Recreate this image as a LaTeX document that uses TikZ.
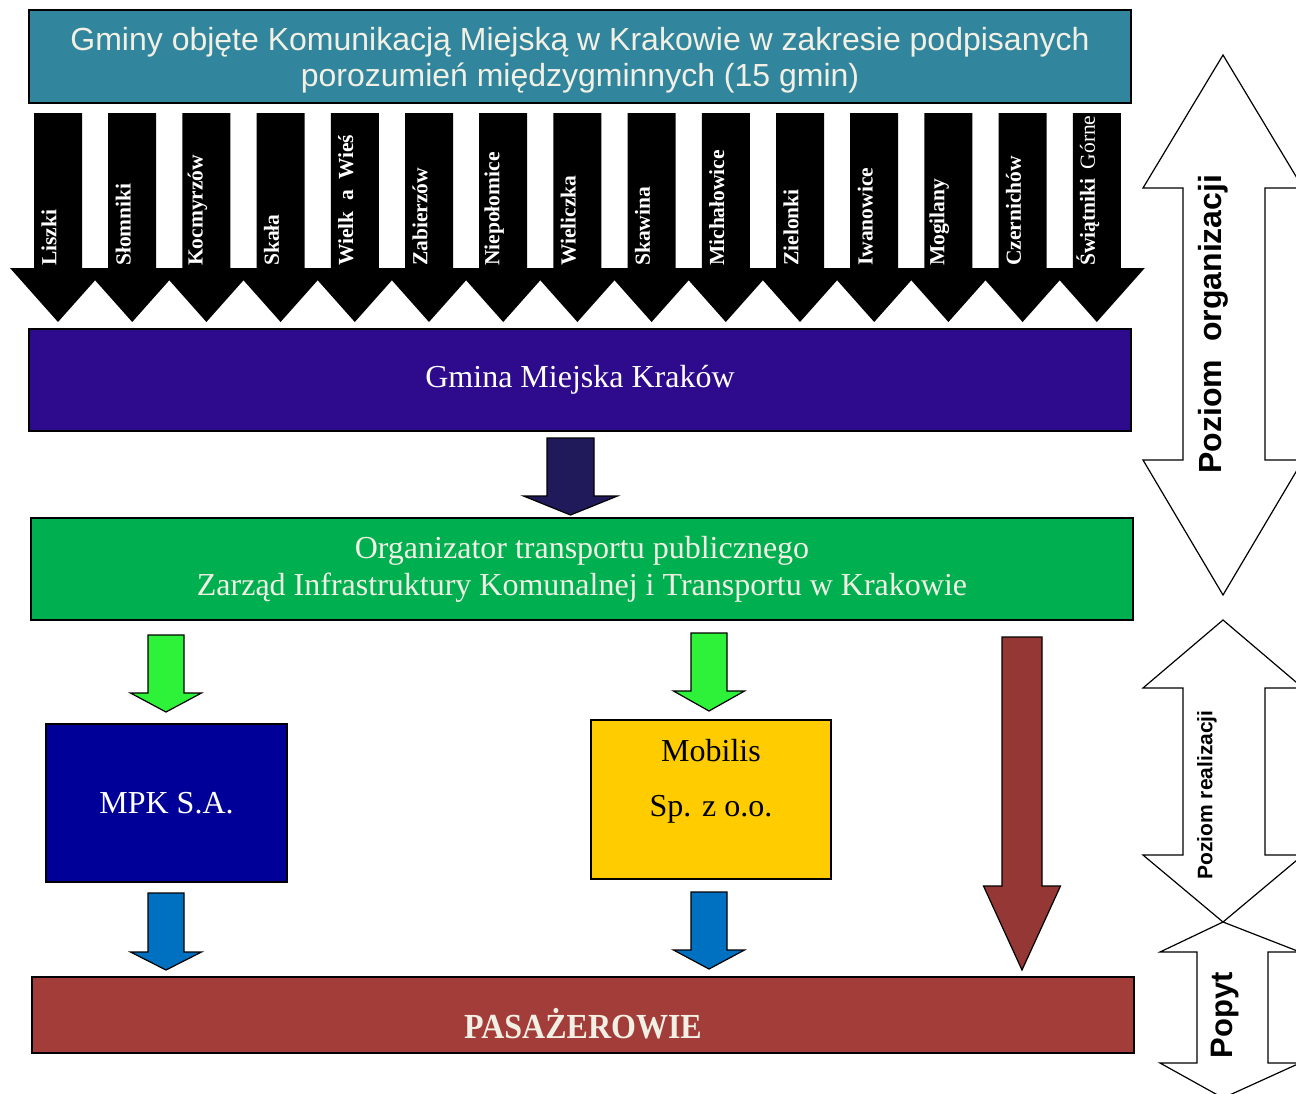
\documentclass[tikz,border=0pt]{standalone}
\usepackage{fontspec}
\setmainfont{Liberation Serif}
\newfontfamily\arialf{Liberation Sans}
\definecolor{tealbox}{HTML}{31859C}
\definecolor{krakbox}{HTML}{2E0A8C}
\definecolor{darkarr}{HTML}{211A5A}
\definecolor{greenbox}{HTML}{00B050}
\definecolor{lgreen}{HTML}{2EF23A}
\definecolor{mpkbox}{HTML}{000099}
\definecolor{mobbox}{HTML}{FFCC00}
\definecolor{bluearr}{HTML}{0070C0}
\definecolor{brownarr}{HTML}{953735}
\definecolor{pasbox}{HTML}{A33D3A}
\definecolor{cream}{HTML}{F2F0E4}
\tikzset{
  box/.style={draw=black, line width=1.5pt, inner sep=0pt, align=center},
  serift/.style={font=\fontsize{32}{37}\selectfont},
  blk/.style={fill=black, draw=none},
  barr/.style={draw=black, line width=1.2pt, line join=miter},
  dbl/.style={draw=black, fill=white, line width=1.2pt},
  gname/.style={rotate=90, anchor=west, text=white, inner sep=0pt, font=\fontsize{21.5}{24}\selectfont\bfseries},
}
% down block arrow: cx, ytop, shaft half, ybase, head half, ytip, style
\newcommand{\dnarrow}[7]{%
  \path[#7] ({#1-#3},{#2}) -- ({#1+#3},{#2}) -- ({#1+#3},{#4}) -- ({#1+#5},{#4}) -- ({#1},{#6}) -- ({#1-#5},{#4}) -- ({#1-#3},{#4}) -- cycle;}
% double vertical arrow: tipx, ytip1, yb1, headL, headR, shaftL, shaftR, yb2, ytip2
\newcommand{\dblarrow}[9]{%
  \path[dbl] (#1,#2) -- (#5,#3) -- (#7,#3) -- (#7,#8) -- (#5,#8) -- (#1,#9) -- (#4,#8) -- (#6,#8) -- (#6,#3) -- (#4,#3) -- cycle;}
\begin{document}
\begin{tikzpicture}[x=1pt,y=-1pt]
\useasboundingbox (0,0) rectangle (1296,1093);
\clip (0,0) rectangle (1296,1093);
\fill[white] (0,0) rectangle (1296,1093);

% boxes
\node[box, fill=tealbox, minimum width=1102pt, minimum height=93pt] (gminy) at (580,56.5) {};
\node[text=cream, align=center, font=\arialf\fontsize{32}{36}\selectfont] (gminytxt) at (580,60)
      {Gminy objęte Komunikacją Miejską w Krakowie w zakresie podpisanych\\porozumień międzygminnych (15 gmin)};
\node[box, fill=krakbox, minimum width=1102pt, minimum height=102pt, text=white, serift] (krakow) at (580,380) {Gmina Miejska Kraków};
\node[box, fill=greenbox, minimum width=1102pt, minimum height=102pt, text=cream, serift] (org) at (582,569)
      {Organizator transportu publicznego\\Zarząd Infrastruktury Komunalnej i Transportu w Krakowie};
\node[box, fill=mpkbox, minimum width=241pt, minimum height=158pt, text=white, serift] (mpk) at (166.5,803) {MPK S.A.};
\node[box, fill=mobbox, minimum width=240pt, minimum height=159pt] (mobilis) at (711,799.5) {};
\node[align=center, font=\fontsize{32}{55}\selectfont] (mobtxt) at (711,781) {Mobilis\\Sp. z o.o.};
\node[box, fill=pasbox, minimum width=1102pt, minimum height=76pt] (pas) at (583,1015) {};
\node[text=cream, font=\fontsize{32}{37}\selectfont\bfseries, yscale=1.1] (pastxt) at (583,1024) {PASAŻEROWIE};

% black arrows of 15 communes
\foreach \i in {0,...,14}{
  \pgfmathsetmacro{\cx}{58+74.2*\i}
  \dnarrow{\cx}{113}{24}{268}{48}{322}{blk}
}
\foreach \i/\nm in {0/Liszki,1/Słomniki,2/Kocmyrzów,3/Skała,4/{Wielk\hspace{5pt} a\hspace{5pt} Wieś},5/Zabierzów,6/Niepołomice,7/Wieliczka,8/Skawina,9/Michałowice,10/Zielonki,11/Iwanowice,12/Mogilany,13/Czernichów,14/{Świątniki\hspace{4pt} \mdseries Górne}}{
  \pgfmathsetmacro{\cx}{49+74.2*\i}
  \node[gname] (g\i) at (\cx,266) {\nm};
}

% flow arrows
\dnarrow{570.5}{438}{23.5}{496}{47}{515}{barr, fill=darkarr}
\dnarrow{166}{635}{18}{693}{35.5}{712}{barr, fill=lgreen}
\dnarrow{709}{633}{18}{691}{35.5}{711}{barr, fill=lgreen}
\dnarrow{166}{893}{18}{952}{35.5}{970}{barr, fill=bluearr}
\dnarrow{709}{892}{18}{950}{35.5}{969}{barr, fill=bluearr}
\dnarrow{1022}{637}{20}{886}{38.5}{970}{barr, fill=brownarr}

% level arrows on the right
\dblarrow{1223}{55}{188}{1143}{1303}{1183}{1265}{460}{595}
\dblarrow{1223}{620}{688}{1143}{1303}{1183}{1265}{855}{922}
\dblarrow{1223}{922}{952}{1160}{1300}{1197}{1268}{1063}{1098}
\node[rotate=90, font=\arialf\bfseries\fontsize{32}{36}\selectfont] (lvorg) at (1213,324) {Poziom\ \ organizacji};
\node[rotate=90, font=\arialf\bfseries\fontsize{21}{24}\selectfont] (lvreal) at (1207,795) {Poziom realizacji};
\node[rotate=90, font=\arialf\bfseries\fontsize{31}{34}\selectfont] (lvpop) at (1225,1015) {Popyt};
\end{tikzpicture}
\end{document}
